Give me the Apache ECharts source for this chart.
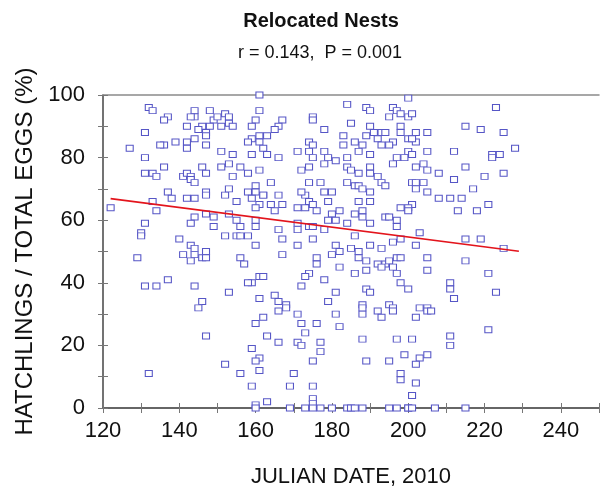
<!DOCTYPE html>
<html>
<head>
<meta charset="utf-8">
<title>Relocated Nests</title>
<script src="https://cdn.jsdelivr.net/npm/echarts@6/dist/echarts.min.js"></script>
<style>
  html, body { margin: 0; padding: 0; background: #ffffff; }
  #chart { width: 602px; height: 493px; }
</style>
</head>
<body>
<div id="chart"></div>
<script>
// Hatching success of relocated nests against the Julian date they were laid (2010)
const julianDay = [
  132,133,137,136,144,144,143,142,148,149,150,152,153,153,151,154,148,146,145,147,131,147,144,136,135,139,142,142,147,127,151,154,131,153,136,146,151,131,133,134,141,142,143,147,154,143,144,137,147,152,153,
  161,161,160,159,167,166,165,161,163,159,158,161,162,163,159,166,156,158,161,164,160,158,160,162,175,175,178,174,175,174,171,175,178,179,181,178,174,172,174,177,178,180,173,172,184,189,190,185,190,191,189,183,183,193,192,186,188,187,190,193,184,184,185,187,190,190,192,193,184,186,187,188,190,
  200,196,197,195,198,200,201,223,215,219,225,198,198,202,205,194,200,202,201,196,195,205,212,222,222,224,228,200,201,197,199,196,202,204,205,215,208,220,225,212,201,202,204,202,194,205,217,
  122,133,134,138,142,144,147,155,144,147,149,153,155,131,143,149,130,130,140,152,155,143,144,147,141,144,146,147,143,129,137,131,134,144,153,146,
  159,162,166,161,160,164,167,165,171,173,174,175,176,179,182,180,186,188,187,190,188,194,190,156,160,160,166,171,171,174,175,178,179,181,184,158,156,167,160,171,175,181,186,190,193,167,180,182,185,187,187,176,176,189,192,194,156,157,182,186,189,174,173,172,178,159,161,162,158,193,189,190,181,179,165,161,166,168,188,
  201,200,198,200,208,211,214,213,218,221,197,197,195,203,196,198,202,215,219,225,197,198,205,215,195,196,197,205,221,198,200,211,211,223,212,195,
  145,147,152,132,
  166,168,162,160,171,172,173,176,181,182,188,188,192,193,163,166,171,172,177,177,188,159,161,160,175,189,156,161,170,159,169,175,175,163,160,175,
  160,169,173,175,177,180,184,185,186,188,195,197,200,200,201,207,215,
  196,196,203,205,205,206,202,221,197,201,211,211,195,199,203,205,202,198,198,202,201
];
const hatchPct = [
  96,95,93,92,95,93,93,90,95,92,93,94,93,91,90,90,90,90,89,88,88,87,86,84,84,85,85,83,84,83,82,81,80,78,77,77,77,75,75,74,74,75,74,75,74,73,72,69,69,68,70,
  100,95,92,90,92,90,89,87,87,86,85,85,83,81,81,80,77,75,76,72,71,69,69,68,93,92,89,85,84,82,82,80,82,80,79,78,77,76,72,72,69,69,68,69,97,96,95,91,90,88,87,87,84,88,86,85,84,82,81,84,80,77,76,75,77,75,74,72,72,71,71,70,69,
  99,96,95,93,94,93,94,96,90,89,88,90,88,88,88,88,86,85,86,85,84,82,82,81,80,81,83,82,81,80,80,78,77,78,76,77,75,74,75,73,72,72,72,70,71,69,70,
  64,66,63,67,67,67,68,66,61,62,61,62,60,59,59,58,56,55,54,55,55,52,51,50,49,49,48,48,47,48,41,39,39,39,37,34,
  67,68,68,65,64,65,65,63,64,64,66,65,63,66,63,62,62,63,66,66,61,61,59,58,60,58,57,59,57,58,58,57,60,60,59,55,55,54,52,52,54,52,55,52,51,49,49,50,51,50,48,48,46,47,46,46,48,46,45,43,44,43,42,39,41,40,42,42,40,45,38,37,37,34,36,35,34,33,33,
  65,64,64,63,67,67,67,63,63,65,60,58,61,56,53,54,52,54,54,51,48,48,48,47,47,45,43,44,43,40,38,40,38,37,35,33,
  32,23,14,11,
  31,32,29,27,30,27,24,27,30,26,30,32,31,29,23,21,21,20,21,18,22,19,16,15,15,15,11,12,11,7,7,7,3,2,1,1.4,
  0,0,0,0,0,0,0,0,0,0,0,0,0,0,0,0,0,
  32,31,32,32,31,31,29,25,22,22,23,20,15,17,16,17,14,11,9,8,4
];

// Least-squares fit drawn across the sampled date range
const fitDay = [122, 229];
const fitPct = [66.9, 50.1];

const titleText = 'Relocated Nests';
const statText = 'r = 0.143,  P = 0.001';
const xName = 'JULIAN DATE, 2010';
const yName = 'HATCHLINGS / TOTAL EGGS (%)';

const FONT = "'Liberation Sans', Arial, Helvetica, sans-serif";
const chart = echarts.init(document.getElementById('chart'), null, { renderer: 'canvas' });

const everyOther = v => (Math.round(v) % 20 === 0 ? String(v) : '');

const points = julianDay.map((d, i) => [d, hatchPct[i]]);
const fitLine = fitDay.map((d, i) => [d, fitPct[i]]);

const xBase = { type: 'value', min: 120, max: 250, interval: 10 };
const yBase = { type: 'value', min: 0, max: 100, interval: 10 };

chart.setOption({
  backgroundColor: '#ffffff',
  animation: false,
  textStyle: { fontFamily: FONT },
  title: [
    { text: titleText, left: 316, top: 6, textAlign: 'center',
      textStyle: { fontFamily: FONT, fontSize: 20, fontWeight: 'bold', color: '#111' } },
    { text: statText, left: 315, top: 39, textAlign: 'center',
      textStyle: { fontFamily: FONT, fontSize: 18, fontWeight: 'normal', color: '#111' } }
  ],
  grid: { left: 103, right: -4, top: 95, bottom: 85, containLabel: false },
  xAxis: [
    Object.assign({}, xBase, {
      position: 'bottom',
      name: xName, nameLocation: 'middle', nameGap: 58,
      nameTextStyle: { fontFamily: FONT, fontSize: 22, color: '#111' },
      axisLine: { show: true, lineStyle: { color: '#666', width: 2 } },
      axisTick: { show: true, length: 5, lineStyle: { color: '#777', width: 1 } },
      axisLabel: { margin: 12, fontFamily: FONT, fontSize: 22, color: '#111', formatter: everyOther },
      splitLine: { show: false }
    }),
    // inner half of the crossing ticks
    Object.assign({}, xBase, {
      position: 'bottom',
      axisLine: { show: false },
      axisTick: { show: true, inside: true, length: 5, lineStyle: { color: '#777', width: 1 } },
      axisLabel: { show: false },
      splitLine: { show: false }
    }),
    // frame line along the top of the plot
    Object.assign({}, xBase, {
      position: 'top',
      axisLine: { show: true, lineStyle: { color: '#8a8a8a', width: 1.5 } },
      axisTick: { show: false },
      axisLabel: { show: false },
      splitLine: { show: false }
    })
  ],
  yAxis: [
    Object.assign({}, yBase, {
      position: 'left',
      name: yName, nameLocation: 'middle', nameGap: 61, nameRotate: 90,
      nameTextStyle: { fontFamily: FONT, fontSize: 24, color: '#111' },
      axisLine: { show: true, lineStyle: { color: '#444', width: 1.5 } },
      axisTick: { show: true, length: 5, lineStyle: { color: '#777', width: 1 } },
      axisLabel: { margin: 18, fontFamily: FONT, fontSize: 22, color: '#111', formatter: everyOther },
      splitLine: { show: false }
    }),
    Object.assign({}, yBase, {
      position: 'left',
      axisLine: { show: false },
      axisTick: { show: true, inside: true, length: 5, lineStyle: { color: '#777', width: 1 } },
      axisLabel: { show: false },
      splitLine: { show: false }
    })
  ],
  series: [
    {
      type: 'scatter',
      xAxisIndex: 0, yAxisIndex: 0,
      data: points,
      symbol: 'rect',
      symbolSize: [7, 6],
      clip: false,
      itemStyle: { color: '#ffffff', borderColor: '#5656c6', borderWidth: 1, opacity: 1 },
      z: 3
    },
    {
      type: 'line',
      xAxisIndex: 0, yAxisIndex: 0,
      data: fitLine,
      symbol: 'none',
      lineStyle: { color: '#e3141c', width: 1.6 },
      z: 4
    }
  ]
});
</script>
</body>
</html>
